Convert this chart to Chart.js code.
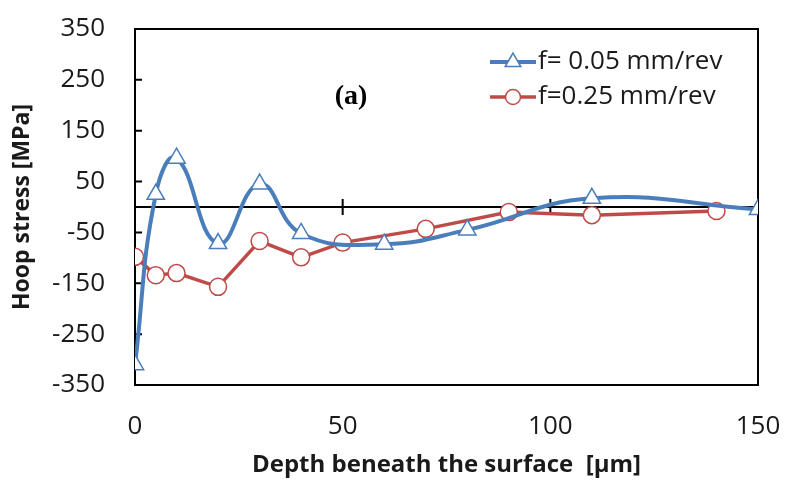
<!DOCTYPE html>
<html>
<head>
<meta charset="utf-8">
<script src="https://cdn.jsdelivr.net/npm/chart.js@4.4.1/dist/chart.umd.min.js"></script>
<style>
  html, body { margin: 0; padding: 0; background: #fff; }
  #wrap { width: 785px; height: 480px; }
</style>
</head>
<body>
<div id="wrap"><canvas id="hoopChart"></canvas></div>
<script>
// Data
const depthSlow = [0, 5, 10, 20, 30, 40, 60, 80, 110, 150];
const stressSlow = [-310, 25, 96, -72, 45, -52, -73, -45, 17, -5];
const depthFast = [0, 5, 10, 20, 30, 40, 50, 70, 90, 110, 140];
const stressFast = [-98, -134, -130, -157, -67, -99, -70, -43, -10, -16, -8];
const seriesLabels = ['f= 0.05 mm/rev', 'f=0.25 mm/rev'];
const yTickValues = [-350, -250, -150, -50, 50, 150, 250, 350];
const xTickValues = [0, 50, 100, 150];
const panelLabel = '(a)';

const toPoints = (xs, ys) => xs.map((x, i) => ({ x: x, y: ys[i] }));

// Box, zero line and small inner ticks
const framePlugin = {
    id: 'frame',
    beforeDatasetsDraw(chart) {
        const { ctx, chartArea: a, scales } = chart;
        const y0 = scales.y.getPixelForValue(0);
        ctx.save();
        ctx.strokeStyle = '#000';
        ctx.lineWidth = 2;
        ctx.strokeRect(a.left, a.top, a.right - a.left, a.bottom - a.top);
        ctx.beginPath();
        ctx.moveTo(a.left, y0);
        ctx.lineTo(a.right, y0);
        // ticks on the zero line
        [50, 100].forEach(v => {
            const px = scales.x.getPixelForValue(v);
            ctx.moveTo(px, y0 - 8);
            ctx.lineTo(px, y0 + 8);
        });
        // inward ticks on the y axis
        yTickValues.forEach(v => {
            const py = scales.y.getPixelForValue(v);
            ctx.moveTo(a.left, py);
            ctx.lineTo(a.left + 7, py);
        });
        ctx.stroke();
        ctx.restore();
    }
};

// Legend inside the plot, line + marker, and the (a) label
const insideLegend = {
    id: 'insideLegend',
    afterDraw(chart) {
        const { ctx, chartArea: a, scales } = chart;
        ctx.save();
        chart.data.datasets.forEach((ds, i) => {
            const y = a.top + 33 + i * 35;
            const x1 = a.right - 268, x2 = x1 + 46;
            ctx.strokeStyle = ds.borderColor;
            ctx.lineWidth = ds.borderWidth;
            ctx.beginPath();
            ctx.moveTo(x1, y);
            ctx.lineTo(x2, y);
            ctx.stroke();
            ctx.fillStyle = ds.pointBackgroundColor;
            ctx.lineWidth = ds.pointBorderWidth;
            Chart.helpers.drawPoint(ctx, {
                pointStyle: ds.pointStyle,
                radius: ds.pointRadius - 1,
                borderWidth: ds.pointBorderWidth,
                rotation: 0
            }, (x1 + x2) / 2, y);
            ctx.fillStyle = '#1a1a1a';
            ctx.font = '26px "Open Sans"';
            ctx.textAlign = 'left';
            ctx.textBaseline = 'middle';
            ctx.fillText(ds.label, x2 + 2, y);
        });
        ctx.font = 'bold 28px "Liberation Serif"';
        ctx.fillStyle = '#000';
        ctx.textAlign = 'center';
        ctx.textBaseline = 'middle';
        ctx.fillText(panelLabel, scales.x.getPixelForValue(52), scales.y.getPixelForValue(216));
        ctx.restore();
    }
};

new Chart(document.getElementById('hoopChart'), {
    type: 'line',
    data: {
        datasets: [{
            label: seriesLabels[0],
            data: toPoints(depthSlow, stressSlow),
            borderColor: '#4a7ebb',
            borderWidth: 4,
            tension: 0.45,
            pointStyle: 'triangle',
            pointRadius: 10,
            pointBorderWidth: 1.5,
            pointBorderColor: '#4a7ebb',
            pointBackgroundColor: '#fff'
        }, {
            label: seriesLabels[1],
            data: toPoints(depthFast, stressFast),
            borderColor: '#be4b48',
            borderWidth: 3.5,
            tension: 0,
            pointStyle: 'circle',
            pointRadius: 8.5,
            pointBorderWidth: 1.5,
            pointBorderColor: '#be4b48',
            pointBackgroundColor: '#fff'
        }]
    },
    options: {
        responsive: true,
        maintainAspectRatio: false,
        animation: false,
        layout: { padding: { top: 29, right: 27, left: 0, bottom: 0 } },
        plugins: {
            legend: { display: false },
            tooltip: { enabled: false }
        },
        scales: {
            x: {
                type: 'linear',
                min: 0,
                max: 150,
                afterBuildTicks: s => { s.ticks = xTickValues.map(v => ({ value: v })); },
                afterFit: s => { s.height = 95; s.paddingLeft = 0; s.paddingRight = 0; },
                grid: { display: false, drawTicks: false },
                border: { display: false },
                ticks: {
                    padding: 26,
                    maxRotation: 0,
                    color: '#1a1a1a',
                    font: { family: 'Open Sans', size: 26 }
                },
                title: {
                    display: true,
                    text: 'Depth beneath the surface  [\u00b5m]',
                    color: '#1a1a1a',
                    padding: { top: 0, bottom: 0 },
                    font: { family: 'Open Sans', size: 24, weight: 'bold' }
                }
            },
            y: {
                min: -350,
                max: 350,
                afterBuildTicks: s => { s.ticks = yTickValues.map(v => ({ value: v })); },
                afterFit: s => { s.width = 135; s.paddingTop = 0; s.paddingBottom = 0; },
                grid: { display: false, drawTicks: false },
                border: { display: false },
                ticks: {
                    padding: 30,
                    color: '#1a1a1a',
                    font: { family: 'Open Sans', size: 26 }
                },
                title: {
                    display: true,
                    text: 'Hoop stress [MPa]',
                    color: '#1a1a1a',
                    padding: { top: 9, bottom: 0 },
                    font: { family: 'Open Sans', size: 23, weight: 'bold' }
                }
            }
        }
    },
    plugins: [framePlugin, insideLegend]
});
</script>
</body>
</html>
